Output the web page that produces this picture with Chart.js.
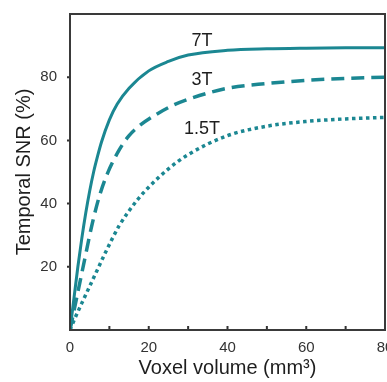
<!DOCTYPE html>
<html>
<head>
<meta charset="utf-8">
<script src="https://cdn.jsdelivr.net/npm/chart.js@4/dist/chart.umd.min.js"></script>
<style>
  html, body { margin: 0; padding: 0; background: #fff; }
  #wrap { width: 387px; height: 382px; }
</style>
</head>
<body>
<div id="wrap"><canvas id="chart"></canvas></div>
<script>
// values
const vol7T  = [0, 1, 2, 3, 4, 5, 6, 7, 8, 10, 12, 15, 20, 25, 30, 40, 50, 60, 70, 80];
const snr7T  = [0, 10, 20, 29, 37, 44, 50, 55, 59.5, 66.5, 71.5, 76.5, 82, 85, 87, 88.5, 89, 89.2, 89.3, 89.3];

const vol3T  = [0, 1, 2, 3, 4, 5, 6, 7.5, 9.5, 12.5, 15, 17.5, 22, 26, 30, 40, 50, 60, 70, 80];
const snr3T  = [0, 6, 12, 18, 24, 30, 35.5, 42.5, 49.5, 57, 61.5, 64.5, 68.3, 71, 73, 76.5, 78, 79, 79.6, 80];

const vol15T = [0, 1, 3, 6, 9, 12.5, 17, 20, 25, 30, 40, 50, 60, 70, 80];
const snr15T = [0, 3, 8.5, 16.5, 24.5, 33, 41, 45.2, 51, 55.5, 61.5, 64.5, 66, 66.8, 67.3];

const fieldLabels = ['7T', '3T', '1.5T'];
const labelX = [33.5, 33.5, 33.5];
const labelY = [91.5, 79, 63.5];

const xTicks = [0, 20, 40, 60, 80];
const yTicks = [20, 40, 60, 80];

const teal = '#1b8792';
const tickFont = { size: 15, family: '"Liberation Sans", Arial, sans-serif' };

function pts(xs, ys) {
  return xs.map((x, i) => ({ x, y: ys[i] }));
}

// frame, inward x ticks, small y ticks, curve labels
const decor = {
  id: 'decor',
  afterDraw(chart) {
    const { ctx, chartArea: a, scales: { x, y } } = chart;
    ctx.save();
    ctx.strokeStyle = '#333';
    ctx.lineWidth = 2;
    ctx.beginPath();
    for (let v = 10; v < 80; v += 10) {
      const px = x.getPixelForValue(v);
      ctx.moveTo(px, a.bottom);
      ctx.lineTo(px, a.bottom - 4);
    }
    yTicks.forEach(v => {
      const py = y.getPixelForValue(v);
      ctx.moveTo(a.left, py);
      ctx.lineTo(a.left - 3, py);
    });
    ctx.stroke();
    ctx.strokeStyle = '#3a3a3a';
    ctx.lineWidth = 2;
    ctx.strokeRect(a.left, a.top, a.right - a.left, a.bottom - a.top);

    ctx.fillStyle = '#1e1e1e';
    ctx.font = '18px "Liberation Sans", Arial, sans-serif';
    ctx.textAlign = 'center';
    ctx.textBaseline = 'middle';
    fieldLabels.forEach((t, i) => {
      ctx.fillText(t, x.getPixelForValue(labelX[i]), y.getPixelForValue(labelY[i]));
    });
    ctx.restore();
  }
};

new Chart(document.getElementById('chart'), {
  type: 'line',
  data: {
    datasets: [
      {
        label: '7T',
        data: pts(vol7T, snr7T),
        borderColor: teal,
        borderWidth: 3,
        pointRadius: 0,
        cubicInterpolationMode: 'monotone',
      },
      {
        label: '3T',
        data: pts(vol3T, snr3T),
        borderColor: teal,
        borderWidth: 3.5,
        borderDash: [13, 7],
        borderCapStyle: 'butt',
        pointRadius: 0,
        cubicInterpolationMode: 'monotone',
      },
      {
        label: '1.5T',
        data: pts(vol15T, snr15T),
        borderColor: teal,
        borderWidth: 3.5,
        borderDash: [3.5, 3.5],
        borderCapStyle: 'butt',
        pointRadius: 0,
        cubicInterpolationMode: 'monotone',
      },
    ],
  },
  options: {
    responsive: true,
    maintainAspectRatio: false,
    animation: false,
    layout: { padding: { top: 14, right: 2, left: 0, bottom: 0 } },
    plugins: {
      legend: { display: false },
      tooltip: { enabled: false },
    },
    scales: {
      x: {
        type: 'linear',
        min: 0,
        max: 80,
        grid: { display: false },
        border: { display: false },
        afterBuildTicks: (s) => { s.ticks = xTicks.map(v => ({ value: v })); },
        afterFit: (s) => { s.height = 52; s.paddingRight = 0; s.paddingLeft = 0; },
        ticks: {
          color: '#333',
          padding: 1,
          maxRotation: 0,
          font: tickFont,
        },
        title: {
          display: true,
          text: 'Voxel volume (mm³)',
          color: '#1e1e1e',
          padding: { top: 0, bottom: 2 },
          font: { size: 20, family: '"Liberation Sans", Arial, sans-serif' },
        },
      },
      y: {
        min: 0,
        max: 100,
        grid: { display: false },
        border: { display: false },
        afterBuildTicks: (s) => { s.ticks = yTicks.map(v => ({ value: v })); },
        afterFit: (s) => { s.width = 70; },
        ticks: {
          color: '#333',
          padding: 5,
          font: tickFont,
        },
        title: {
          display: true,
          text: 'Temporal SNR (%)',
          color: '#1e1e1e',
          padding: { top: 12, bottom: 0 },
          font: { size: 20, family: '"Liberation Sans", Arial, sans-serif' },
        },
      },
    },
  },
  plugins: [decor],
});
</script>
</body>
</html>
